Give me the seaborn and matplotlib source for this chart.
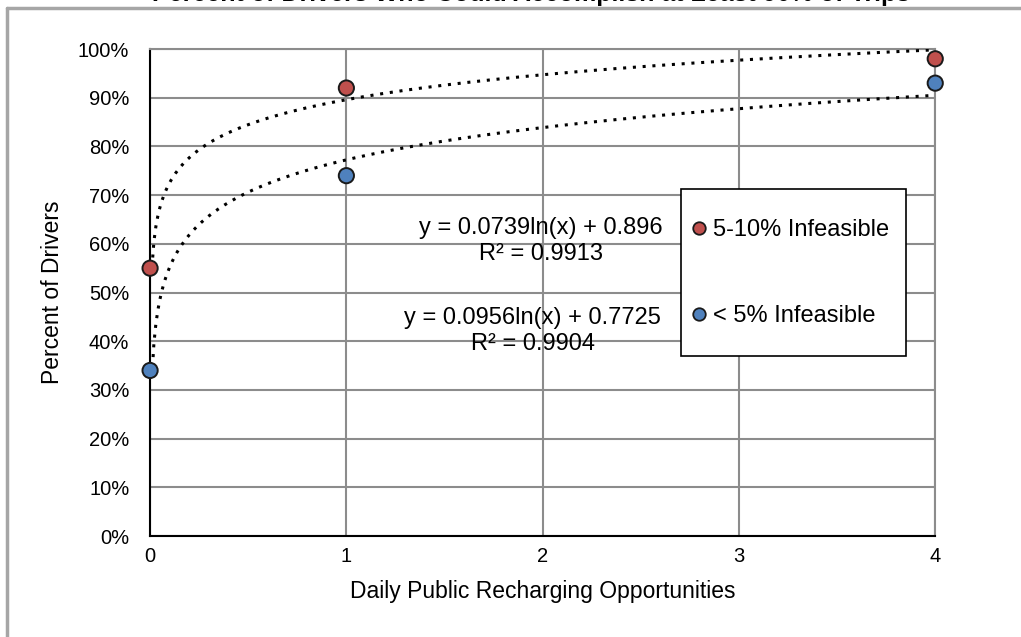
import numpy as np
import pandas as pd
import matplotlib
matplotlib.use("Agg")
import matplotlib.pyplot as plt
from matplotlib.lines import Line2D
from matplotlib.patches import Rectangle
import seaborn as sns

# data
opportunities = [0, 1, 4]
pct_5_10 = [0.55, 0.92, 0.98]
pct_lt5 = [0.34, 0.74, 0.93]
series_names = ["5-10% Infeasible", "< 5% Infeasible"]
fit_a = [0.0739, 0.0956]
fit_b = [0.896, 0.7725]
fit_r2 = [0.9913, 0.9904]
y_ticks = [0, 0.1, 0.2, 0.3, 0.4, 0.5, 0.6, 0.7, 0.8, 0.9, 1.0]
x_ticks = [0, 1, 2, 3, 4]

df = pd.DataFrame({
    "x": opportunities * 2,
    "y": pct_5_10 + pct_lt5,
    "series": [series_names[0]] * 3 + [series_names[1]] * 3,
})

sns.set_theme(style="white")
plt.rcParams["font.family"] = ["Liberation Sans", "DejaVu Sans"]
plt.rcParams["text.color"] = "black"
plt.rcParams["axes.labelcolor"] = "black"

fig = plt.figure(figsize=(10.21, 6.37), dpi=100)
ax = fig.add_axes([0.147, 0.1585, 0.769, 0.7645])

# log trendlines
xs = np.linspace(0.0095, 4, 400)
for a, b in zip(fit_a, fit_b):
    ax.plot(xs, a * np.log(xs) + b, color="black", ls=(0, (1, 2.2)), lw=2.2, zorder=3)

palette = {series_names[0]: "#c0504d", series_names[1]: "#4f81bd"}
sns.scatterplot(data=df, x="x", y="y", hue="series", palette=palette, s=120,
                edgecolor="#1a1a1a", linewidth=1.4, ax=ax, zorder=5, clip_on=False,
                legend=False)

ax.set_xlim(0, 4)
ax.set_ylim(0, 1)
ax.set_xticks(x_ticks)
ax.set_yticks(y_ticks)
ax.set_yticklabels([f"{int(round(t * 100))}%" for t in y_ticks])
ax.tick_params(labelsize=14.5, length=0, colors="black")
ax.tick_params(axis="y", pad=15)
ax.tick_params(axis="x", pad=8)
ax.grid(True, color="#8c8c8c", lw=1.5)
for side in ["top", "right"]:
    ax.spines[side].set_color("#8c8c8c")
    ax.spines[side].set_linewidth(1.5)
for side in ["left", "bottom"]:
    ax.spines[side].set_color("black")
    ax.spines[side].set_linewidth(1.5)

ax.set_xlabel("Daily Public Recharging Opportunities", fontsize=16.5, labelpad=10)
ax.set_ylabel("Percent of Drivers", fontsize=16.5, labelpad=10)

# trendline equations
eq_pos = [(1.99, 0.606), (1.95, 0.421)]
for (ex, ey), a, b, r2 in zip(eq_pos, fit_a, fit_b, fit_r2):
    b_txt = f"{b:.4f}".rstrip("0")
    ax.text(ex, ey, f"y = {a:.4f}ln(x) + {b_txt}\nR² = {r2:.4f}", ha="center", va="center",
            fontsize=17, linespacing=1.25, zorder=6)

# legend box and entries
ax.add_patch(Rectangle((0.676, 0.3696), 0.287, 0.3429, transform=ax.transAxes,
                       facecolor="white", edgecolor="black", lw=1.2, zorder=7, clip_on=False))
handles = [Line2D([], [], marker="o", ls="", markersize=9, markerfacecolor=palette[n],
                  markeredgecolor="#1a1a1a", markeredgewidth=1.3) for n in series_names]
leg = ax.legend(handles, series_names, loc="center left", bbox_to_anchor=(0.690, 0.540),
                fontsize=17, frameon=False, labelspacing=2.7, borderpad=0,
                handlelength=0.6, handletextpad=0.3, borderaxespad=0)
leg.set_zorder(8)

# chart area border and clipped title
fig.add_artist(Line2D([0.007, 0.007], [0, 0.988], color="#a6a6a6", lw=2.5))
fig.add_artist(Line2D([0.007, 1], [0.988, 0.988], color="#a6a6a6", lw=2.5))
fig.text(0.52, 0.999, "Percent of Drivers Who Could Accomplish at Least 90% of Trips",
         ha="center", va="baseline", fontsize=18, fontweight="bold")

fig.savefig("out.png", dpi=100, facecolor="white")
